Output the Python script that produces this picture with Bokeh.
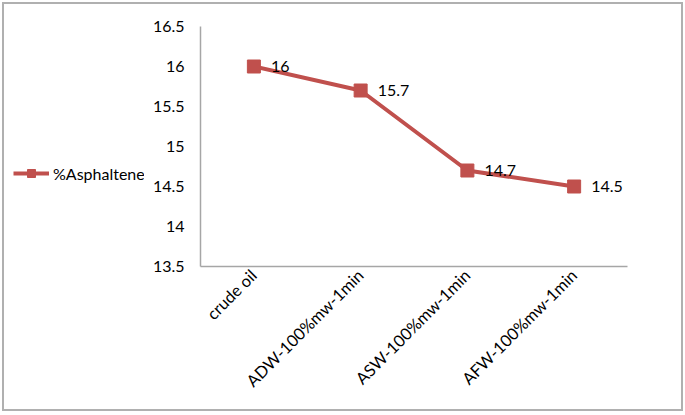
from bokeh.plotting import figure
from bokeh.layouts import row
from bokeh.models import FactorRange, Range1d, FixedTicker, Legend, LegendItem, ColumnDataSource, LabelSet
from bokeh.core.properties import value
from bokeh.embed import file_html
from bokeh.resources import INLINE
from math import pi

categories = ["crude oil", "ADW-100%mw-1min", "ASW-100%mw-1min", "AFW-100%mw-1min"]
asphaltene = [16, 15.7, 14.7, 14.5]
value_labels = ["16", "15.7", "14.7", "14.5"]
y_ticks = [13.5, 14, 14.5, 15, 15.5, 16, 16.5]
y_tick_labels = ["13.5", "14", "14.5", "15", "15.5", "16", "16.5"]
series_name = "%Asphaltene"

RED = "#C0504D"
FONT = "Lato"
H = 405
LW = 140

src = ColumnDataSource(dict(x=categories, y=asphaltene, t=value_labels))

# main chart
p = figure(width=677 - LW, height=H, output_backend="svg", toolbar_location=None,
           x_range=FactorRange(*categories), y_range=Range1d(13.5, 16.5),
           min_border_left=56, min_border_top=22, min_border_right=54, min_border_bottom=143)
p.outline_line_color = None
p.xgrid.grid_line_color = None
p.ygrid.grid_line_color = None

ln = p.line("x", "y", source=src, line_color=RED, line_width=4)
mk = p.scatter("x", "y", source=src, marker="square", size=13, fill_color=RED, line_color=RED)

labels = LabelSet(x="x", y="y", text="t", source=src, x_offset=17, y_offset=0,
                  text_baseline="middle", text_font=value(FONT), text_font_size=value("16px"),
                  text_color="#000000")
p.add_layout(labels)

p.yaxis.ticker = FixedTicker(ticks=y_ticks)
p.yaxis.major_label_overrides = {t: l for t, l in zip(y_ticks, y_tick_labels)}
for ax in (p.xaxis, p.yaxis):
    ax.axis_line_color = "#A6A6A6"
    ax.axis_line_width = 1.5
    ax.major_tick_line_color = None
    ax.minor_tick_line_color = None
    ax.major_label_text_font = FONT
    ax.major_label_text_font_size = "16px"
    ax.major_label_text_color = "#000000"
p.yaxis.major_label_standoff = 10
p.xaxis.major_label_orientation = pi / 4
p.xaxis.major_label_standoff = 0
p.xaxis.major_label_text_font_size = "16.5px"

# legend panel on the left (its frame is aligned with the main frame by the row)
lp = figure(width=LW, height=H, output_backend="svg", toolbar_location=None,
            x_range=FactorRange(*categories), y_range=Range1d(0, 1),
            min_border=0)
lp.axis.visible = False
lp.grid.visible = False
lp.outline_line_color = None
lln = lp.line("x", "y", source=src, line_color=RED, line_width=4)
lmk = lp.scatter("x", "y", source=src, marker="square", size=13, fill_color=RED, line_color=RED)
legend = Legend(items=[LegendItem(label=series_name, renderers=[lln, lmk])],
                location=(9, 83), background_fill_alpha=0, border_line_color=None,
                padding=0, margin=0, glyph_width=36, glyph_height=20, label_standoff=4,
                label_text_font=FONT, label_text_font_size="16px", label_text_color="#000000")
lp.add_layout(legend, "center")

layout = row(lp, p)
layout.styles = {"border": "2px solid #B0B0B0", "margin": "2px"}

open("out.html", "w").write(file_html(layout, INLINE))
